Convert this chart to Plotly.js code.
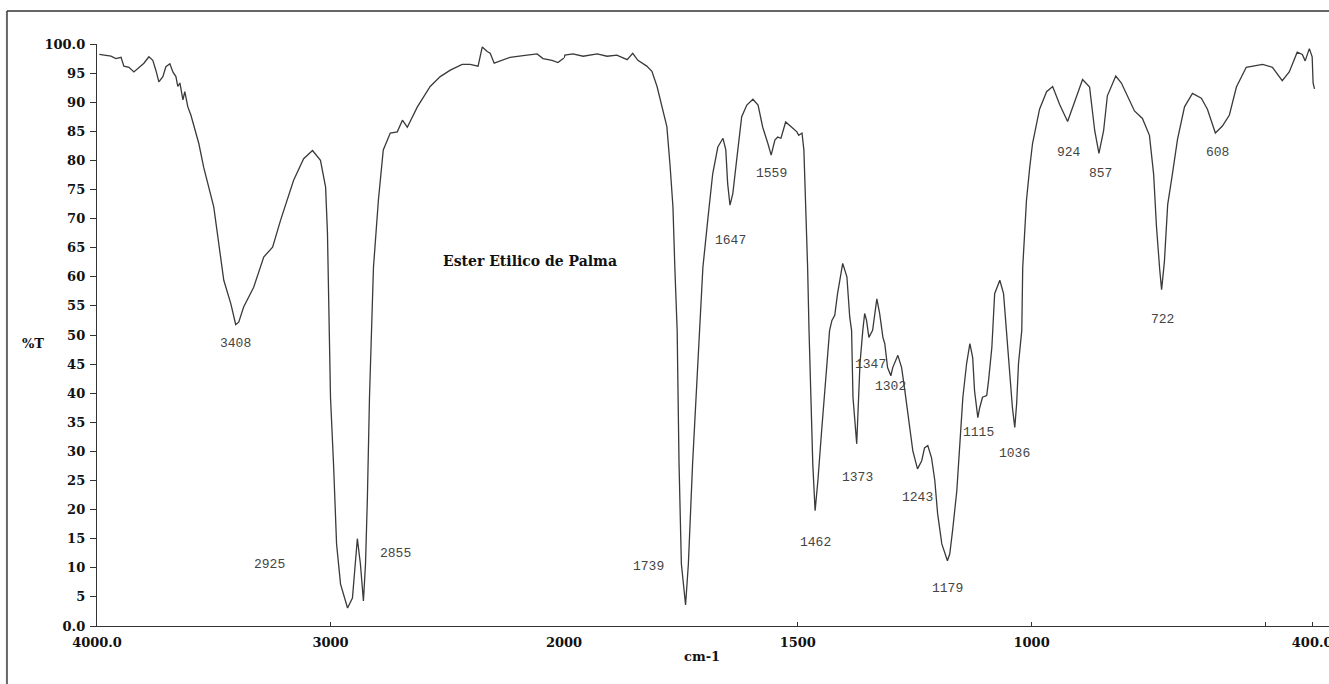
<!DOCTYPE html>
<html>
<head>
<meta charset="utf-8">
<script src="https://cdn.plot.ly/plotly-3.0.1.min.js"></script>
<style>
html,body{margin:0;padding:0;background:#fff;}
#chart{width:1329px;height:684px;}
</style>
</head>
<body>
<div id="chart"></div>
<script>
// Wavenumber (cm-1) and %T, 4000-2000 region (compressed scale)
const wnHigh = [3990,3974,3940,3919,3897,3885,3863,3842,3821,3799,3778,3761,3748,3735,3718,3705,3688,3675,3662,3654,3645,3632,3624,3611,3598,3585,3564,3543,3500,3457,3427,3406,3393,3372,3329,3286,3248,3214,3158,3115,3077,3043,3021,3013,3004,3000,2987,2974,2957,2927,2906,2893,2885,2872,2859,2850,2842,2833,2825,2816,2795,2774,2744,2714,2692,2671,2628,2573,2530,2487,2436,2402,2368,2350,2329,2316,2299,2274,2231,2175,2115,2090,2051,2026,2000];
const tHigh = [98.2,98.1,97.9,97.5,97.7,96.2,96.0,95.2,96.0,96.7,97.8,97.2,95.5,93.5,94.4,96.1,96.6,95.2,94.4,92.7,93.3,90.4,91.8,89.2,87.8,85.8,82.9,78.8,72.0,59.4,55.4,51.8,52.2,54.8,58.2,63.4,65.1,69.7,76.6,80.3,81.7,80.0,75.4,67.5,50.3,39.3,27.8,14.1,7.2,3.1,4.8,10.7,15.0,10.7,4.3,10.7,22.0,39.3,50.8,61.6,73.1,81.8,84.7,84.9,86.9,85.7,89.2,92.7,94.4,95.5,96.5,96.5,96.2,99.5,98.7,98.4,96.7,97.1,97.7,98.0,98.3,97.5,97.2,96.8,97.6];

// Wavenumber (cm-1) and %T, 2000-400 region (expanded scale)
const wnLow = [2000,1998,1981,1959,1929,1908,1887,1865,1853,1842,1823,1812,1801,1791,1780,1773,1767,1763,1758,1754,1749,1740,1734,1725,1711,1703,1692,1682,1671,1660,1654,1650,1645,1639,1630,1620,1609,1596,1585,1575,1564,1557,1549,1543,1536,1526,1513,1502,1498,1491,1487,1483,1479,1476,1472,1468,1463,1457,1449,1438,1432,1427,1421,1415,1404,1395,1389,1385,1382,1374,1371,1367,1361,1357,1353,1348,1340,1331,1325,1318,1314,1308,1301,1297,1286,1278,1271,1265,1254,1244,1235,1229,1222,1214,1207,1201,1192,1180,1175,1169,1160,1154,1147,1139,1132,1126,1122,1115,1111,1105,1096,1092,1085,1079,1068,1060,1053,1049,1041,1036,1032,1028,1021,1019,1011,1004,998,983,968,955,940,923,908,891,876,865,856,846,838,820,808,795,780,763,748,739,733,726,722,716,709,699,688,673,656,637,624,607,592,577,562,541,506,485,464,449,432,421,415,406,400,398,395];
const tLow = [97.6,98.1,98.3,97.9,98.3,97.9,98.1,97.3,98.4,97.2,96.2,95.3,92.7,89.2,85.8,78.9,72.0,61.7,50.8,27.9,10.7,3.6,10.7,27.9,50.8,61.6,70.2,77.7,82.3,83.8,81.8,76.0,72.3,74.3,80.6,87.5,89.5,90.5,89.5,85.7,82.9,80.9,83.5,84.0,83.8,86.6,85.7,84.9,84.3,84.7,81.8,73.1,61.6,50.8,39.3,27.9,19.8,25.0,33.6,45.1,50.8,52.5,53.4,57.1,62.3,60.0,53.1,50.8,39.3,31.3,36.5,45.1,50.8,53.7,52.5,49.6,50.8,56.2,53.7,49.6,48.5,44.4,43.0,44.4,46.5,44.4,40.4,36.5,30.1,27.0,28.4,30.6,31.0,28.9,25.0,19.3,14.1,11.2,12.4,16.4,23.2,30.6,39.3,45.1,48.5,46.1,40.4,35.8,37.5,39.3,39.6,42.2,47.9,57.1,59.4,57.1,50.2,45.1,37.5,34.1,38.2,45.1,50.8,61.6,73.1,78.8,82.9,88.8,91.8,92.7,89.6,86.7,90.0,93.9,92.6,85.1,81.2,85.1,91.1,94.5,93.3,91.1,88.5,87.2,84.3,77.6,68.7,61.2,57.8,62.6,72.4,77.6,83.6,89.2,91.5,90.7,88.8,84.7,85.9,87.8,92.6,96.0,96.5,96.0,93.7,95.2,98.6,98.2,97.1,99.2,97.8,93.3,92.3];

// Peak labels
const peakLabels = ["3408","2925","2855","1739","1647","1559","1462","1373","1347","1302","1243","1179","1115","1036","924","857","722","608"];
const peakLabelX = [3405,3263,2720,1820,1643,1557,1463,1373,1345,1301,1245,1179,1114,1037,920,853,721,603];
const peakLabelY = [48.5,10.5,12.4,10.3,66.2,77.7,14.3,25.6,45.0,41.1,22.0,6.5,33.3,29.6,81.4,77.7,52.6,81.4];
const peakAxis = ["x","x","x","x2","x2","x2","x2","x2","x2","x2","x2","x2","x2","x2","x2","x2","x2","x2"];

const yTickVals = [0,5,10,15,20,25,30,35,40,45,50,55,60,65,70,75,80,85,90,95,100];
const yTickText = ["0.0","5","10","15","20","25","30","35","40","45","50","55","60","65","70","75","80","85","90","95","100.0"];
const xHighTickVals = [4000,3000];
const xHighTickText = ["4000.0","3000"];
const xLowTickVals = [2000,1500,1000,500,400];
const xLowTickText = ["2000","1500","1000","","400.0"];

const chartTitle = "Ester Etilico de Palma";
const xTitle = "cm-1";
const yTitle = "%T";

const lineStyle = {color:"#3a3a3a", width:1.3};
const serifBold = {family:"DejaVu Serif", size:13, color:"#111", weight:"bold"};

const traces = [
  {x: wnHigh, y: tHigh, xaxis:"x", yaxis:"y", type:"scatter", mode:"lines", line: lineStyle, hoverinfo:"skip"},
  {x: wnLow, y: tLow, xaxis:"x2", yaxis:"y", type:"scatter", mode:"lines", line: lineStyle, hoverinfo:"skip"}
];

const annotations = peakLabels.map((t,i)=>({
  text: t, x: peakLabelX[i], y: peakLabelY[i], xref: peakAxis[i], yref:"y",
  showarrow:false, xanchor:"center", yanchor:"middle",
  font:{family:"Liberation Mono", size:13, color:"#444"}
}));
annotations.push({text: chartTitle, x: 2527, y: 62.7, xref:"x", yref:"y", xanchor:"left", yanchor:"middle", showarrow:false, font:{family:"DejaVu Serif", size:14, color:"#111", weight:"bold"}});
annotations.push({text: yTitle, x: -0.052, y: 0.486, xref:"paper", yref:"paper", xanchor:"center", yanchor:"middle", showarrow:false, font:serifBold});
annotations.push({text: xTitle, x: 0.491, y: -0.053, xref:"paper", yref:"paper", xanchor:"center", yanchor:"middle", showarrow:false, font:serifBold});

const axisCommon = {
  showgrid:false, zeroline:false, showline:true, linecolor:"#333", linewidth:1.2,
  tickcolor:"#333", tickfont: serifBold, ticklabeloverflow:"allow", fixedrange:true
};

const split = (564-97)/1232;

const layout = {
  width:1329, height:684,
  margin:{l:97, r:0, t:44, b:58},
  paper_bgcolor:"#ffffff", plot_bgcolor:"#ffffff",
  showlegend:false,
  xaxis: Object.assign({}, axisCommon, {
    domain:[0, split], range:[4000,2000], anchor:"y",
    tickmode:"array", tickvals:xHighTickVals, ticktext:xHighTickText,
    ticks:"inside", ticklen:4, ticklabelstandoff:4
  }),
  xaxis2: Object.assign({}, axisCommon, {
    domain:[split, 1], range:[2000,364], anchor:"y",
    tickmode:"array", tickvals:xLowTickVals, ticktext:xLowTickText,
    ticks:"inside", ticklen:4, ticklabelstandoff:4
  }),
  yaxis: Object.assign({}, axisCommon, {
    range:[0,100], anchor:"x",
    tickmode:"array", tickvals:yTickVals, ticktext:yTickText,
    ticks:"outside", ticklen:6, ticklabelstandoff:2
  }),
  annotations: annotations,
  shapes:[
    {type:"line", xref:"paper", yref:"paper", x0:-0.0731, x1:-0.0731, y0:1.0567, y1:-0.12, line:{color:"#666", width:2}},
    {type:"line", xref:"paper", yref:"paper", x0:-0.0731, x1:1.01, y0:1.0567, y1:1.0567, line:{color:"#333", width:1.5}}
  ]
};

Plotly.newPlot("chart", traces, layout, {staticPlot:true, displayModeBar:false});
</script>
</body>
</html>
